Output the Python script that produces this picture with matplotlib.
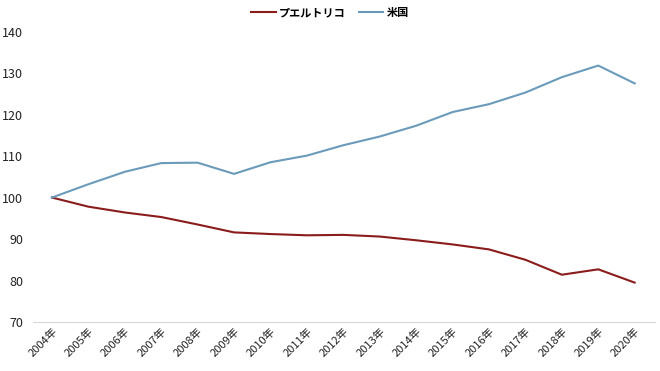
import matplotlib
matplotlib.use("Agg")
import matplotlib.pyplot as plt

plt.rcParams['font.family'] = ['Noto Sans CJK JP', 'DejaVu Sans']

years = [f"{y}年" for y in range(2004, 2021)]
puerto_rico = [100, 97.8, 96.4, 95.3, 93.5, 91.6, 91.2, 90.9, 91.0, 90.6,
               89.7, 88.7, 87.5, 85.0, 81.4, 82.7, 79.5]
usa = [100, 103.2, 106.2, 108.3, 108.4, 105.7, 108.5, 110.1, 112.6, 114.7,
       117.3, 120.6, 122.5, 125.3, 129.0, 131.8, 127.5]

fig = plt.figure(figsize=(6.6, 3.71), dpi=100)
ax = fig.add_axes([0.05, 0.132, 0.942, 0.783])

x = range(len(years))
ax.plot(x, puerto_rico, color="#8b1c1c", lw=1.5, label="プエルトリコ")
ax.plot(x, usa, color="#6b9bba", lw=1.5, label="米国")

ax.set_ylim(70, 140)
ax.set_yticks(range(70, 141, 10))
ax.set_xlim(-0.52, 16.55)
ax.set_xticks(list(x))
ax.set_xticklabels(years, rotation=45, ha="right", rotation_mode="anchor", fontsize=8)
ax.tick_params(axis="y", labelsize=9, length=0, pad=7, colors="#222222")
ax.tick_params(axis="x", length=0, pad=3, colors="#222222")

for s in ["top", "right", "left"]:
    ax.spines[s].set_visible(False)
ax.spines["bottom"].set_color("#d9d9d9")

fig.legend(loc="upper center", bbox_to_anchor=(0.5, 1.01), ncol=2, frameon=False,
           handlelength=2.2, columnspacing=1.2, handletextpad=0.3,
           prop={'weight': 'bold', 'size': 8})

fig.savefig("out.png", dpi=100)
